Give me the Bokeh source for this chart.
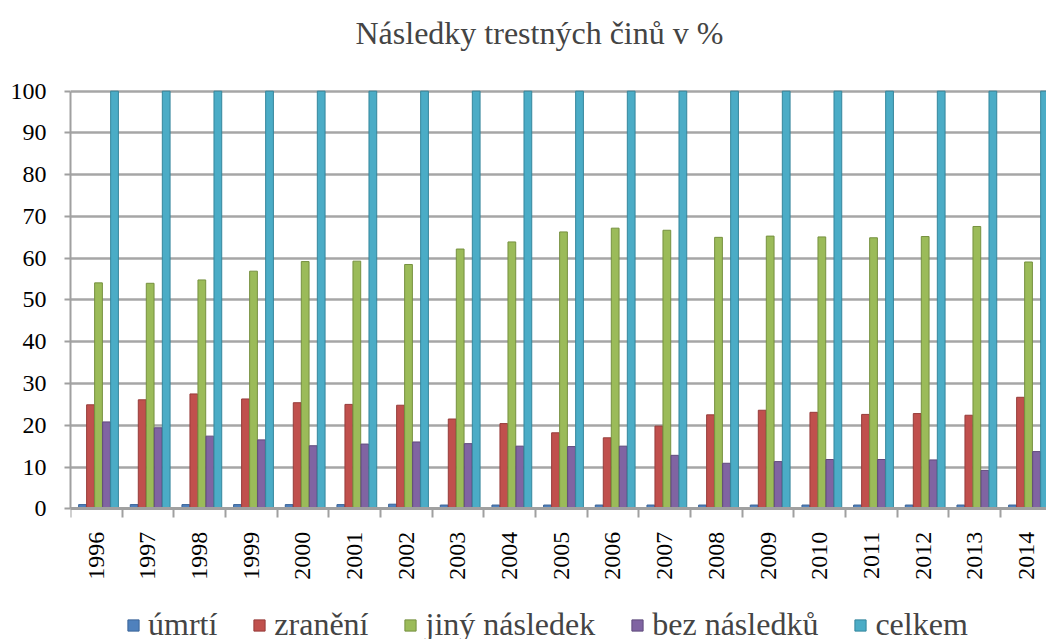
import math
from bokeh.plotting import figure
from bokeh.models import Range1d, FixedTicker, Legend, LegendItem
from bokeh.embed import file_html
from bokeh.resources import INLINE

years = ["1996", "1997", "1998", "1999", "2000", "2001", "2002", "2003", "2004", "2005",
         "2006", "2007", "2008", "2009", "2010", "2011", "2012", "2013", "2014"]
umrti = [1.0, 1.0, 1.0, 1.0, 1.0, 1.0, 1.1, 0.9, 0.9, 0.9, 0.9, 0.9, 0.9, 0.9, 0.9, 0.9, 0.9, 0.9, 0.9]
zraneni = [24.9, 26.1, 27.5, 26.3, 25.4, 25.0, 24.8, 21.5, 20.4, 18.2, 17.0, 19.8, 22.5, 23.6, 23.1, 22.6, 22.8, 22.4, 26.7]
jiny = [54.1, 54.0, 54.8, 56.9, 59.2, 59.3, 58.5, 62.2, 63.9, 66.3, 67.2, 66.7, 65.0, 65.3, 65.1, 64.9, 65.2, 67.6, 59.1]
bez = [20.8, 19.4, 17.4, 16.5, 15.1, 15.5, 16.0, 15.6, 15.0, 14.9, 15.0, 12.8, 10.9, 11.3, 11.8, 11.8, 11.7, 9.2, 13.7]
celkem = [100, 100, 100, 100, 100, 100, 100, 100, 100, 100, 100, 100, 100, 100, 100, 100, 100, 100, 100]

series_names = ["úmrtí", "zranění", "jiný následek", "bez následků", "celkem"]
series_values = [umrti, zraneni, jiny, bez, celkem]
yticks = [0, 10, 20, 30, 40, 50, 60, 70, 80, 90, 100]

# styles
fills = ["#4F81BD", "#C0504D", "#9BBB59", "#8064A2", "#4BACC6"]
edges = ["#3A6397", "#963C3A", "#76913F", "#5F4A7C", "#35869C"]
offsets = [-0.268, -0.113, 0.042, 0.197, 0.352]
bar_w = 0.15
FONT = "Liberation Serif"

n = len(years)
p = figure(width=1046, height=639, output_backend="svg", toolbar_location=None,
           x_range=Range1d(-0.5, 18.39), y_range=Range1d(-31.3, 107.35),
           min_border_left=70, min_border_right=0, min_border_top=60, min_border_bottom=0)
p.outline_line_color = None
p.background_fill_color = "white"
p.border_fill_color = "white"

p.title.text = "Následky trestných činů v %"
p.title.text_font = FONT
p.title.text_font_size = "32px"
p.title.text_font_style = "normal"
p.title.align = "left"
p.title.offset = 285
p.title.vertical_align = "top"
p.title.standoff = 16

renderers = []
for name, vals, fc, ec, off in zip(series_names, series_values, fills, edges, offsets):
    xs = [i + off for i in range(n)]
    r = p.vbar(x=xs, top=vals, bottom=0, width=bar_w, fill_color=fc, line_color=ec, line_width=1)
    renderers.append(r)

# y axis
p.yaxis.ticker = FixedTicker(ticks=yticks)
p.yaxis.bounds = (0, 100)
p.yaxis.axis_line_color = "#a0a0a0"
p.yaxis.axis_line_width = 2
p.yaxis.major_tick_line_color = "#a0a0a0"
p.yaxis.major_tick_line_width = 2
p.yaxis.major_tick_out = 6
p.yaxis.major_tick_in = 0
p.yaxis.minor_tick_line_color = None
p.yaxis.major_label_text_font = FONT
p.yaxis.major_label_text_font_size = "24px"
p.yaxis.major_label_text_color = "black"
p.yaxis.major_label_standoff = 18

# x axis drawn at y = 0
centers = list(range(n))
bounds = [i - 0.5 for i in range(n + 1)]
p.xaxis.fixed_location = 0
p.xaxis.ticker = FixedTicker(ticks=centers, minor_ticks=bounds)
p.xaxis.major_label_overrides = {i: y for i, y in enumerate(years)}
p.xaxis.major_label_orientation = math.pi / 2
p.xaxis.major_label_text_font = FONT
p.xaxis.major_label_text_font_size = "24px"
p.xaxis.major_label_text_color = "black"
p.xaxis.major_label_standoff = 14
p.xaxis.axis_line_color = "#a0a0a0"
p.xaxis.axis_line_width = 3
p.xaxis.major_tick_line_color = None
p.xaxis.minor_tick_line_color = "#a0a0a0"
p.xaxis.minor_tick_line_width = 2
p.xaxis.minor_tick_out = 9
p.xaxis.minor_tick_in = 0

p.xgrid.grid_line_color = None
p.ygrid.ticker = FixedTicker(ticks=yticks)
p.ygrid.grid_line_color = "#a6a6a6"
p.ygrid.grid_line_width = 2.5

legend = Legend(items=[LegendItem(label=nm, renderers=[r]) for nm, r in zip(series_names, renderers)],
                orientation="horizontal", location=(56, -4),
                label_text_font=FONT, label_text_font_size="32px",
                glyph_width=14, glyph_height=14, label_standoff=8, spacing=35,
                padding=0, margin=0, border_line_color=None, background_fill_alpha=0,
                label_height=32)
p.add_layout(legend, "center")

open("out.html", "w").write(file_html(p, INLINE))
